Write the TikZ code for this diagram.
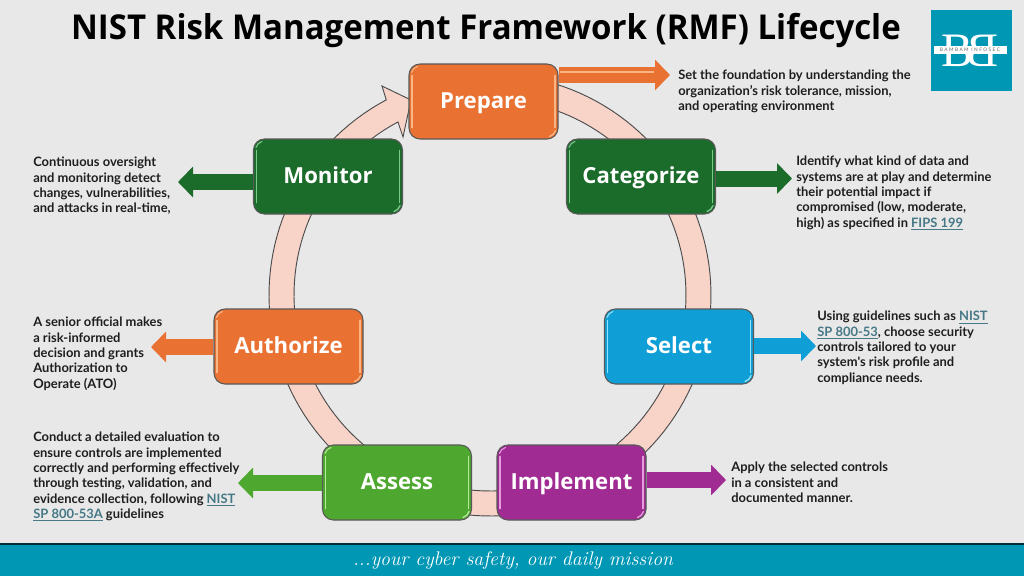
\documentclass[tikz,border=0pt]{standalone}
\usepackage{fontspec}
\usetikzlibrary{arrows.meta,calc}
\setsansfont{Open Sans}
\newfontfamily\bodyf{Lato}
\newfontfamily\serifl{Liberation Serif}
\newfontfamily\logof[LetterSpace=30]{Lato}
\newdimen\px \px=0.75pt
\definecolor{bgc}{HTML}{E8E8E8}
\definecolor{teal}{HTML}{0097B5}
\definecolor{ringc}{HTML}{F8D3C8}
\definecolor{orangeb}{HTML}{E97132}
\definecolor{orangel}{HTML}{FAB585}
\definecolor{dgreen}{HTML}{1B6B2B}
\definecolor{dgreenl}{HTML}{7BC98B}
\definecolor{blueb}{HTML}{0F9ED5}
\definecolor{bluel}{HTML}{8FE3FA}
\definecolor{purpb}{HTML}{A02B93}
\definecolor{purpl}{HTML}{E79ADE}
\definecolor{greenb}{HTML}{4EA72E}
\definecolor{greenl}{HTML}{B4EC9C}
\definecolor{linkc}{HTML}{467886}
\definecolor{textc}{HTML}{1E1E1E}
\newcommand{\lnk}[1]{\textcolor{linkc}{\underline{#1}}}
\newcommand{\stepbox}[6]{%
  \node[stagebox,fill=#4] (#1) at (#2,#3) {#6};
  \draw[glow=#5] ($(#1.north west)+(3.5\px,-12\px)$) -- ($(#1.south west)+(3.5\px,12\px)$);
  \draw[glow=#5] ($(#1.north east)+(-3.5\px,-12\px)$) -- ($(#1.south east)+(-3.5\px,12\px)$);
  \draw[#5,line width=1.0pt,line cap=round] ($(#1.south east)+(-3\px,9\px)$) to[bend left=25] ($(#1.south east)+(-9\px,3\px)$);
  \draw[#5,line width=0.8pt,line cap=round] ($(#1.north west)+(3\px,-9\px)$) to[bend left=25] ($(#1.north west)+(9\px,-3\px)$);
}
\tikzset{
  stagebox/.style={draw=black!65,line width=0.8pt,rounded corners=11\px,minimum width=149\px,minimum height=75\px,inner sep=0pt,text height=10pt,text depth=0pt,text=white,font=\sffamily\bfseries\fontsize{16.6}{20}\selectfont},
  glow/.style={draw=#1,line width=1.3pt,line cap=round},
  desc/.style={anchor=north west,inner sep=0pt,align=left,text=textc,font=\bodyf\bfseries\fontsize{9.7}{11.5}\selectfont},
  shaft/.style={draw=#1,line width=12pt},
  pointer/.style={-{Triangle[length=11.25pt,width=22.5pt]}},
}
\begin{document}
\begin{tikzpicture}[x=0.75pt,y=-0.75pt]
\useasboundingbox (0,0) rectangle (1024,576);
\fill[bgc] (0,0) rectangle (1024,576);
% title
\node[anchor=base,inner sep=0pt,text=black,xscale=0.963,font=\sffamily\bfseries\fontsize{25.7}{28}\selectfont] (title) at (486,39.5) {NIST Risk Management Framework (RMF) Lifecycle};
% logo
\fill[teal] (931,10) rectangle (1012,91);
\node[inner sep=0pt,text=white,font=\serifl\fontsize{36}{36}\selectfont] (logoa) at (957,51) {B};
\node[inner sep=0pt,text=white,font=\serifl\fontsize{36}{36}\selectfont,xscale=-1] (logob) at (982,51) {B};
\fill[white] (934,46) rectangle (1007,54);
\node[inner sep=0pt,text=black!60,font=\logof\fontsize{3.6}{4}\selectfont] (logot) at (970,50) {BAMBAM INFOSEC};
% footer
\fill[teal] (0,544) rectangle (1024,576);
\draw[black!70!teal,line width=0.8pt] (0,544) -- (1024,544);
\node[inner sep=0pt,text=white,font=\rmfamily\itshape\fontsize{14.8}{18}\selectfont] (tag) at (513,561) {...your cyber safety, our daily mission};
% ring
\draw[draw=black!70,line width=0.7pt,fill=ringc]
  plot[domain=-80:242,samples=140] ({490+221*cos(\x)},{295+221*sin(\x)})
  -- (382,86) -- (411,100) -- (403,137) --
  plot[domain=242:-80,samples=140] ({490+196*cos(\x)},{295+196*sin(\x)}) -- cycle;
% text
\node[desc] (tprep) at (678,70) {Set the foundation by understanding the\\organization’s risk tolerance, mission,\\and operating environment};
\node[desc] (tcat) at (796,156) {Identify what kind of data and\\systems are at play and determine\\their potential impact if\\compromised (low, moderate,\\high) as specified in \lnk{FIPS 199}};
\node[desc] (tsel) at (817,311) {Using guidelines such as \lnk{NIST}\\\lnk{SP 800-53}, choose security\\controls tailored to your\\system's risk profile and\\compliance needs.};
\node[desc] (timp) at (731,462) {Apply the selected controls\\in a consistent and\\documented manner.};
\node[desc] (tass) at (33,432) {Conduct a detailed evaluation to\\ensure controls are implemented\\correctly and performing effectively\\through testing, validation, and\\evidence collection, following \lnk{NIST}\\\lnk{SP 800-53A} guidelines};
\node[desc] (taut) at (33,317) {A senior official makes\\a risk-informed\\decision and grants\\Authorization to\\Operate (ATO)};
\node[desc] (tmon) at (33,157) {Continuous oversight\\and monitoring detect\\changes, vulnerabilities,\\and attacks in real-time,};
% boxes
\stepbox{prep}{483.5}{101.5}{orangeb}{orangel}{Prepare}
\stepbox{cat}{641}{176.5}{dgreen}{dgreenl}{Categorize}
\stepbox{sel}{679}{346.5}{blueb}{bluel}{Select}
\stepbox{imp}{571.5}{482.5}{purpb}{purpl}{Implement}
\stepbox{ass}{397}{482.5}{greenb}{greenl}{Assess}
\stepbox{aut}{288.5}{346.5}{orangeb}{orangel}{Authorize}
\stepbox{mon}{328}{176.5}{dgreen}{dgreenl}{Monitor}
% pointers
\coordinate (pa) at (670,75);
\coordinate (pb) at (792,178.5);
\coordinate (pc) at (816,346);
\coordinate (pd) at (726,480);
\coordinate (pe) at (238,483);
\coordinate (pf) at (151,347);
\coordinate (pg) at (178,182);
\draw[shaft=orangeb,pointer] (prep.east |- pa) -- (pa);
\draw[orangel,line width=2pt] ($(prep.east |- pa)+(1,-3)$) -- ($(pa)+(-16,-3)$);
\draw[shaft=dgreen,pointer] (cat.east |- pb) -- (pb);
\draw[shaft=blueb,pointer] (sel.east |- pc) -- (pc);
\draw[shaft=purpb,pointer] (imp.east |- pd) -- (pd);
\draw[shaft=greenb,pointer] (ass.west |- pe) -- (pe);
\draw[shaft=orangeb,pointer] (aut.west |- pf) -- (pf);
\draw[shaft=dgreen,pointer] (mon.west |- pg) -- (pg);
\end{tikzpicture}
\end{document}
